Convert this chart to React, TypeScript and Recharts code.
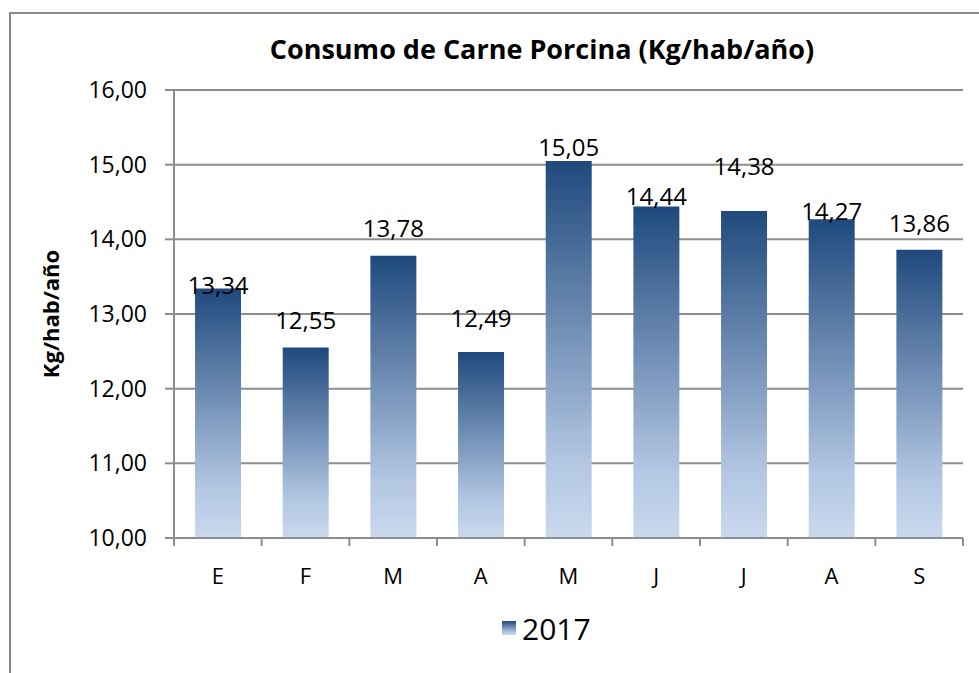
import React from "react";
import {
  BarChart,
  Bar,
  XAxis,
  YAxis,
  CartesianGrid,
  Legend,
  LabelList,
} from "recharts";

const MONTHS = ["E", "F", "M", "A", "M", "J", "J", "A", "S"];
const CONSUMO_2017 = [13.34, 12.55, 13.78, 12.49, 15.05, 14.44, 14.38, 14.27, 13.86];
const Y_TICKS = [10, 11, 12, 13, 14, 15, 16];
const SERIES_NAME = "2017";

// Excel placed the value labels a bit unevenly; nudge each one (px above bar top)
const LABEL_DY = [-4, -28, -28, -35, -14, -11, -45, -9, -27];

const FONT = "'Open Sans', 'Liberation Sans', sans-serif";
const GRID = "#8e8e8e";

const data = MONTHS.map((m, i) => ({ id: i, mes: m, valor: CONSUMO_2017[i] }));

const fmt = (v: number) => v.toFixed(2).replace(".", ",");

function MonthTick(props: any) {
  const { x, y, payload, index } = props;
  const half = payload.offset || 0;
  return (
    <g>
      <line x1={x - half} y1={y} x2={x - half} y2={y + 8} stroke={GRID} strokeWidth={2} />
      {index === MONTHS.length - 1 && (
        <line x1={x + half} y1={y} x2={x + half} y2={y + 8} stroke={GRID} strokeWidth={2} />
      )}
      <text x={x} y={y + 37} textAnchor="middle" dominantBaseline="central" fontSize={22} fontFamily={FONT} fill="#000">
        {MONTHS[index]}
      </text>
    </g>
  );
}

function ValueLabel(props: any) {
  const { x, y, width, value, index } = props;
  return (
    <text
      x={x + width / 2}
      y={y + LABEL_DY[index]}
      textAnchor="middle"
      dominantBaseline="central"
      fontSize={24}
      fontFamily={FONT}
      fill="#000"
    >
      {fmt(Number(value))}
    </text>
  );
}

function YTitle(props: any) {
  const { viewBox } = props;
  const cy = viewBox.y + viewBox.height / 2;
  return (
    <text
      x={50}
      y={cy}
      transform={`rotate(-90, 50, ${cy})`}
      textAnchor="middle"
      dominantBaseline="central"
      fontSize={22}
      fontWeight="bold"
      fontFamily={FONT}
      fill="#000"
    >
      Kg/hab/año
    </text>
  );
}

function LegendBox() {
  return (
    <div style={{ display: "flex", alignItems: "center", height: 36, paddingLeft: 502 }}>
      <div
        style={{
          width: 14,
          height: 14,
          background: "linear-gradient(#1f497d, #b3c7e3 80%, #c9d9ee)",
          marginRight: 6,
        }}
      />
      <span style={{ fontFamily: FONT, fontSize: 30, color: "#000" }}>{SERIES_NAME}</span>
    </div>
  );
}

export default function App() {
  return (
    <div style={{ position: "absolute", left: 0, top: 0, width: 979, height: 673, background: "#fff", overflow: "hidden" }}>
      <div
        style={{
          position: "absolute",
          left: 9,
          top: 12,
          width: 1000,
          height: 700,
          borderTop: "2px solid #8a8a8a",
          borderLeft: "2px solid #8a8a8a",
        }}
      />
      <div
        style={{
          position: "absolute",
          left: 192,
          width: 700,
          top: 30,
          textAlign: "center",
          fontFamily: FONT,
          fontWeight: "bold",
          fontSize: 27,
          color: "#000",
        }}
      >
        Consumo de Carne Porcina (Kg/hab/año)
      </div>
      <div style={{ position: "absolute", left: 0, top: 0 }}>
        <BarChart
          width={979}
          height={673}
          data={data}
          margin={{ top: 90, right: 16, bottom: 27, left: 0 }}
          barCategoryGap="24%"
        >
          <defs>
            <linearGradient id="barGrad" x1="0" y1="0" x2="0" y2="1">
              <stop offset="0%" stopColor="#1f497d" />
              <stop offset="80%" stopColor="#b3c7e3" />
              <stop offset="100%" stopColor="#c9d9ee" />
            </linearGradient>
          </defs>
          <CartesianGrid vertical={false} stroke={GRID} strokeWidth={2} />
          <XAxis
            dataKey="id"
            height={72}
            axisLine={{ stroke: GRID, strokeWidth: 2 }}
            tickLine={false}
            tickSize={0}
            tickMargin={0}
            interval={0}
            tick={<MonthTick />}
          />
          <YAxis
            width={174}
            domain={[10, 16]}
            ticks={Y_TICKS}
            allowDataOverflow
            axisLine={{ stroke: GRID, strokeWidth: 2 }}
            tickLine={{ stroke: GRID, strokeWidth: 2 }}
            tickSize={9}
            tickMargin={18}
            tickFormatter={fmt}
            tick={{ fontSize: 23, fontFamily: FONT, fill: "#000" }}
            label={<YTitle />}
          />
          <Legend verticalAlign="bottom" height={36} content={<LegendBox />} />
          <Bar dataKey="valor" name={SERIES_NAME} fill="url(#barGrad)" isAnimationActive={false}>
            <LabelList dataKey="valor" content={<ValueLabel />} />
          </Bar>
        </BarChart>
      </div>
    </div>
  );
}
